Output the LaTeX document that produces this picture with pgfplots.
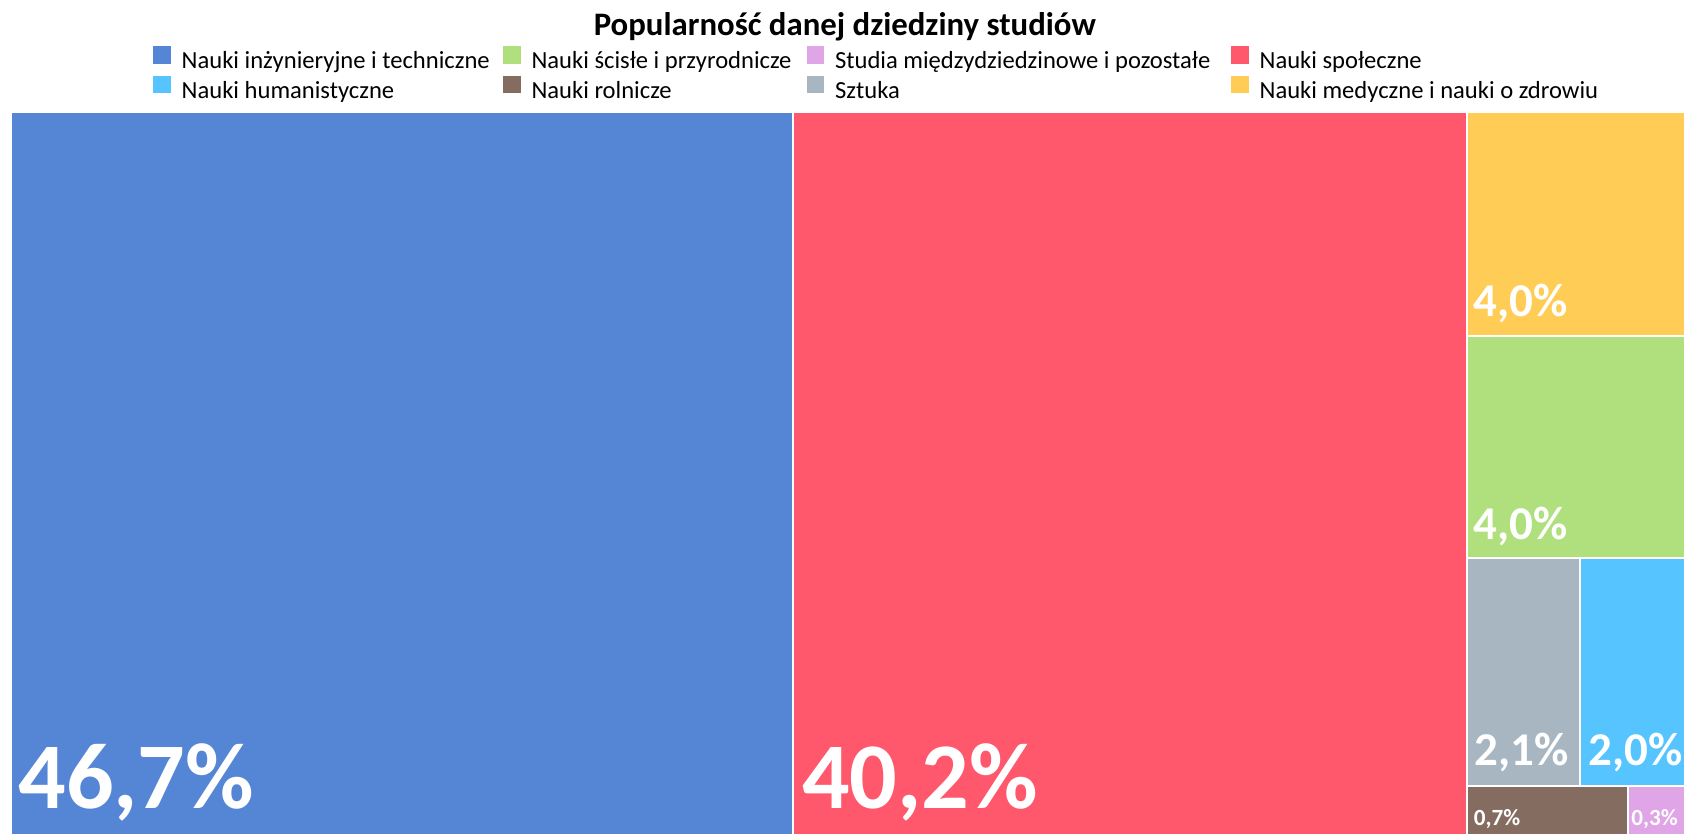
\documentclass[border=0pt]{standalone}
\usepackage{fontspec}
\setmainfont{Carlito}
\usepackage{pgfplots}
\pgfplotsset{compat=1.18}
\definecolor{cblue}{HTML}{5585D5}
\definecolor{cred}{HTML}{FF576C}
\definecolor{cyellow}{HTML}{FFCC55}
\definecolor{cgreen}{HTML}{B0E07E}
\definecolor{cgray}{HTML}{A8B6C2}
\definecolor{clblue}{HTML}{55C4FF}
\definecolor{cbrown}{HTML}{856C61}
\definecolor{cpink}{HTML}{E0A5E6}
\begin{document}
\begin{tikzpicture}
\useasboundingbox (-5.5pt,0pt) rectangle (837pt,417.5pt);
\begin{axis}[
  at={(0pt,0pt)}, anchor=south west,
  scale only axis, width=837pt, height=361.5pt,
  xmin=0, xmax=100, ymin=0, ymax=1,
  hide axis, clip=false,
  legend columns=4,
  legend cell align=left,
  legend style={draw=none, fill=none, inner sep=0pt,
    font=\fontsize{12.3}{13}\selectfont,
    at={(axis description cs:0,1)}, anchor=south west,
    xshift=70.85pt, yshift=4pt,
    row sep=1.0pt,
    nodes={inner sep=0pt, text height=8.5pt, text depth=2.6pt},
    /tikz/every odd column/.append style={column sep=5.5pt},
    /tikz/column 2/.append style={column sep=6.6pt},
    /tikz/column 4/.append style={column sep=7.5pt},
    /tikz/column 6/.append style={column sep=10.3pt}},
  legend image code/.code={\fill[#1,draw=none] (0pt,-0.5pt) rectangle (8.8pt,8.3pt);},
]
% Nauki inzynieryjne i techniczne 46.7
\addplot[fill=cblue, draw=white, line width=1pt] coordinates {(0,0) (46.7,0) (46.7,1) (0,1)} -- cycle;
\addlegendentry{Nauki inżynieryjne i techniczne}
% Nauki scisle i przyrodnicze 4.0
\addplot[fill=cgreen, draw=white, line width=1pt] coordinates {(86.95,0.3831) (100,0.3831) (100,0.6906) (86.95,0.6906)} -- cycle;
\addlegendentry{Nauki ścisłe i przyrodnicze}
% Studia miedzydziedzinowe 0.3
\addplot[fill=cpink, draw=white, line width=1pt] coordinates {(96.59,0) (100,0) (100,0.0682) (96.59,0.0682)} -- cycle;
\addlegendentry{Studia międzydziedzinowe i pozostałe}
% Nauki spoleczne 40.2
\addplot[fill=cred, draw=white, line width=1pt] coordinates {(46.7,0) (86.95,0) (86.95,1) (46.7,1)} -- cycle;
\addlegendentry{Nauki społeczne}
% Nauki humanistyczne 2.0
\addplot[fill=clblue, draw=white, line width=1pt] coordinates {(93.73,0.0682) (100,0.0682) (100,0.3831) (93.73,0.3831)} -- cycle;
\addlegendentry{Nauki humanistyczne}
% Nauki rolnicze 0.7
\addplot[fill=cbrown, draw=white, line width=1pt] coordinates {(86.95,0) (96.59,0) (96.59,0.0682) (86.95,0.0682)} -- cycle;
\addlegendentry{Nauki rolnicze}
% Sztuka 2.1
\addplot[fill=cgray, draw=white, line width=1pt] coordinates {(86.95,0.0682) (93.73,0.0682) (93.73,0.3831) (86.95,0.3831)} -- cycle;
\addlegendentry{Sztuka}
% Nauki medyczne 4.0
\addplot[fill=cyellow, draw=white, line width=1pt] coordinates {(86.95,0.6906) (100,0.6906) (100,1) (86.95,1)} -- cycle;
\addlegendentry{Nauki medyczne i nauki o zdrowiu}

\tikzset{lab/.style={anchor=base west, text=white, inner sep=0pt}}
\node[lab, font=\bfseries\fontsize{47}{47}\selectfont, xshift=3.5pt, yshift=13.5pt] at (axis cs:0,0) {46,7\%};
\node[lab, font=\bfseries\fontsize{47}{47}\selectfont, xshift=4.5pt, yshift=13.5pt] at (axis cs:46.7,0) {40,2\%};
\node[lab, font=\bfseries\fontsize{23.5}{23.5}\selectfont, xshift=3.5pt, yshift=9.5pt] at (axis cs:86.95,0.6906) {4,0\%};
\node[lab, font=\bfseries\fontsize{23.5}{23.5}\selectfont, xshift=3.5pt, yshift=9.5pt] at (axis cs:86.95,0.3831) {4,0\%};
\node[lab, font=\bfseries\fontsize{23.5}{23.5}\selectfont, xshift=4pt, yshift=10pt] at (axis cs:86.95,0.0682) {2,1\%};
\node[lab, font=\bfseries\fontsize{23.5}{23.5}\selectfont, xshift=4pt, yshift=10pt] at (axis cs:93.73,0.0682) {2,0\%};
\node[lab, font=\bfseries\fontsize{11.6}{11.6}\selectfont, xshift=3.5pt, yshift=5pt] at (axis cs:86.95,0) {0,7\%};
\node[lab, font=\bfseries\fontsize{11.6}{11.6}\selectfont, xshift=1.5pt, yshift=5pt] at (axis cs:96.59,0) {0,3\%};
\end{axis}
\node[anchor=base, font=\bfseries\fontsize{16.4}{18}\selectfont, inner sep=0pt] at (416.9pt,399.5pt) {Popularność danej dziedziny studiów};
\end{tikzpicture}
\end{document}
